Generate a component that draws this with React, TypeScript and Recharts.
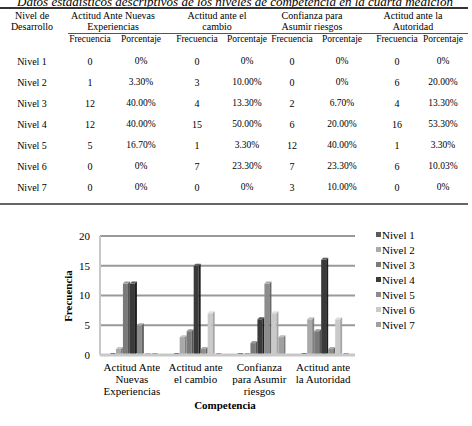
import React from "react";
import { BarChart, Bar, XAxis, YAxis, CartesianGrid } from "recharts";

const title = "Datos estadísticos descriptivos de los niveles de competencia en la cuarta  medición";
const levels = ["Nivel 1", "Nivel 2", "Nivel 3", "Nivel 4", "Nivel 5", "Nivel 6", "Nivel 7"];
const competencias = [
  "Actitud Ante Nuevas Experiencias",
  "Actitud ante el cambio",
  "Confianza para Asumir riesgos",
  "Actitud ante la Autoridad",
];
const tableHeaders = [
  ["Actitud Ante Nuevas", "Experiencias"],
  ["Actitud ante el", "cambio"],
  ["Confianza para", "Asumir riesgos"],
  ["Actitud ante la", "Autoridad"],
];
const chartLabels = [
  ["Actitud Ante", "Nuevas", "Experiencias"],
  ["Actitud ante", "el cambio"],
  ["Confianza", "para Asumir", "riesgos"],
  ["Actitud ante", "la Autoridad"],
];
const freqNuevas = [0, 1, 12, 12, 5, 0, 0];
const freqCambio = [0, 3, 4, 15, 1, 7, 0];
const freqRiesgos = [0, 0, 2, 6, 12, 7, 3];
const freqAutoridad = [0, 6, 4, 16, 1, 6, 0];
const pctNuevas = ["0%", "3.30%", "40.00%", "40.00%", "16.70%", "0%", "0%"];
const pctCambio = ["0%", "10.00%", "13.30%", "50.00%", "3.30%", "23.30%", "0%"];
const pctRiesgos = ["0%", "0%", "6.70%", "20.00%", "40.00%", "23.30%", "10.00%"];
const pctAutoridad = ["0%", "20.00%", "13.30%", "53.30%", "3.30%", "10.03%", "0%"];
const yTicks = [0, 5, 10, 15, 20];

const freqs = [freqNuevas, freqCambio, freqRiesgos, freqAutoridad];
const pcts = [pctNuevas, pctCambio, pctRiesgos, pctAutoridad];

const colors = ["#5a5a5a", "#a9a9a9", "#7a7a7a", "#3a3a3a", "#8c8c8c", "#cacaca", "#a0a0a0"];
const sideColors = ["#3a3a3a", "#808080", "#555555", "#1e1e1e", "#666666", "#a5a5a5", "#7c7c7c"];
const topColors = ["#7a7a7a", "#c4c4c4", "#9a9a9a", "#5a5a5a", "#aaaaaa", "#e0e0e0", "#bcbcbc"];

const data = competencias.map((c, ci) => {
  const row: any = { name: c, idx: ci };
  levels.forEach((l, li) => {
    row[l] = freqs[ci][li];
  });
  return row;
});

const makeShape = (li: number) => (props: any) => {
  const { x, y, width, height } = props;
  const d = 2;
  const w = Math.max(width - d, 1);
  const h = Math.max(height, 0);
  return (
    <g>
      {h > 0 && <rect x={x} y={y} width={w} height={h} fill={colors[li]} />}
      {h > 0 && (
        <polygon
          points={`${x + w},${y} ${x + w + d},${y - d} ${x + w + d},${y + h - d} ${x + w},${y + h}`}
          fill={sideColors[li]}
        />
      )}
      <polygon
        points={`${x},${y} ${x + d},${y - d} ${x + w + d},${y - d} ${x + w},${y}`}
        fill={h > 0 ? topColors[li] : sideColors[li]}
      />
    </g>
  );
};

const XTick = (props: any) => {
  const { x, y, index } = props;
  const lines = chartLabels[index] || [];
  return (
    <text x={x} y={y} textAnchor="middle" fontSize={11} fontFamily="Liberation Serif" fill="#000">
      {lines.map((l, i) => (
        <tspan key={i} x={x} dy={i === 0 ? "0.71em" : 12}>
          {l}
        </tspan>
      ))}
    </text>
  );
};

const Txt = ({ x, y, children, size = 10, style = {} }: any) => (
  <div
    style={{
      position: "absolute",
      left: x,
      top: y,
      transform: "translate(-50%, -50%)",
      fontSize: size,
      whiteSpace: "nowrap",
      lineHeight: 1,
      ...style,
    }}
  >
    {children}
  </div>
);

const Line = ({ x1, x2, y, t = 1, c = "#444" }: any) => (
  <div style={{ position: "absolute", left: x1, top: y, width: x2 - x1, height: t, background: c }} />
);

const groupCenters = [113, 217, 312, 413];
const freqCols = [90, 197, 292, 397];
const pctCols = [141, 247, 342, 443];
const rowYs = [62, 83, 104, 125, 146, 167, 188];

export default function App() {
  return (
    <div
      style={{
        position: "absolute",
        left: 0,
        top: 0,
        width: 472,
        height: 426,
        overflow: "hidden",
        background: "#fff",
        fontFamily: "'Liberation Serif', 'Times New Roman', serif",
        color: "#000",
      }}
    >
      <Txt x={235} y={1} size={13} style={{ fontStyle: "italic" }}>
        {title}
      </Txt>
      <Line x1={0} x2={468} y={7} t={1.5} c="#333" />
      <Txt x={32} y={16}>Nivel de</Txt>
      <Txt x={32} y={27}>Desarrollo</Txt>
      {tableHeaders.map((h, i) => (
        <React.Fragment key={i}>
          <Txt x={groupCenters[i]} y={16}>{h[0]}</Txt>
          <Txt x={groupCenters[i]} y={27}>{h[1]}</Txt>
          <Txt x={freqCols[i]} y={40} size={9.5}>Frecuencia</Txt>
          <Txt x={pctCols[i]} y={40} size={9.5}>Porcentaje</Txt>
        </React.Fragment>
      ))}
      <Line x1={68} x2={468} y={33} t={1} c="#555" />
      {levels.map((l, li) => (
        <React.Fragment key={l}>
          <Txt x={32} y={rowYs[li]}>{l}</Txt>
          {freqs.map((f, ci) => (
            <React.Fragment key={ci}>
              <Txt x={freqCols[ci]} y={rowYs[li]}>{f[li]}</Txt>
              <Txt x={pctCols[ci]} y={rowYs[li]} size={9.5}>{pcts[ci][li]}</Txt>
            </React.Fragment>
          ))}
        </React.Fragment>
      ))}
      <Line x1={0} x2={468} y={203} t={1.5} c="#666" />

      <div style={{ position: "absolute", left: 0, top: 216 }}>
        <BarChart
          width={472}
          height={210}
          data={data}
          margin={{ top: 20, right: 117, left: 60, bottom: 0 }}
          barCategoryGap="14%"
          barGap={0}
        >
          <CartesianGrid vertical={false} stroke="#999999" strokeWidth={2} />
          <XAxis
            dataKey="name"
            height={71}
            tickLine={false}
            axisLine={{ stroke: "#c8c8c8", strokeWidth: 3 }}
            tick={<XTick />}
            interval={0}
          />
          <YAxis
            width={40}
            domain={[0, 20]}
            ticks={yTicks}
            tickLine={false}
            axisLine={{ stroke: "#c8c8c8", strokeWidth: 2 }}
            tickMargin={4}
            tick={{ fontSize: 11, fontFamily: "Liberation Serif", fill: "#000" }}
          />
          {levels.map((l, li) => (
            <Bar key={l} dataKey={l} isAnimationActive={false} shape={makeShape(li)} />
          ))}
        </BarChart>
      </div>
      <div style={{ position: "absolute", left: 376, top: 227, fontSize: 11 }}>
        {levels.map((l, i) => (
          <div key={l} style={{ display: "flex", alignItems: "center", height: 15 }}>
            <span
              style={{ display: "inline-block", width: 5, height: 5, background: colors[i], marginRight: 1 }}
            />
            <span>{l}</span>
          </div>
        ))}
      </div>
      <Txt
        x={68}
        y={296}
        size={11}
        style={{ fontWeight: "bold", transform: "translate(-50%, -50%) rotate(-90deg)" }}
      >
        Frecuencia
      </Txt>
      <Txt x={225} y={405} size={11} style={{ fontWeight: "bold" }}>
        Competencia
      </Txt>
    </div>
  );
}
